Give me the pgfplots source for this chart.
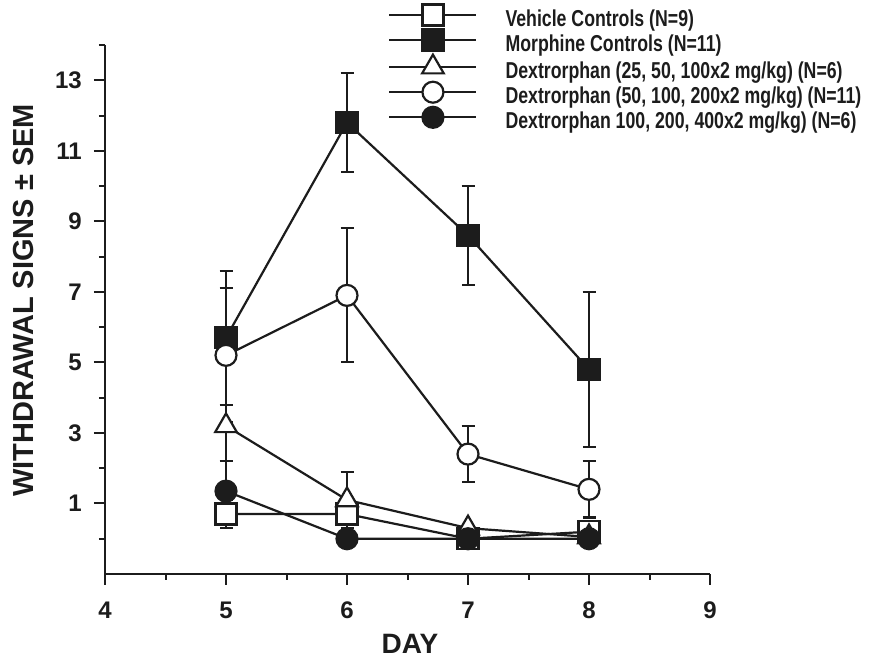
\documentclass[border=0pt]{standalone}
\usepackage{pgfplots}
\pgfplotsset{compat=1.18}
\usepackage{fontspec}
\setmainfont{Liberation Sans}
\newfontfamily\narrowfont[FakeStretch=0.77]{Liberation Sans}
\definecolor{ink}{HTML}{1C1C1C}
\pgfplotsset{
  pstyle/.style={ink, line width=2.2pt, mark size=10.5pt,
    error bars/y dir=both, error bars/y explicit,
    error bars/error bar style={line width=2.2pt, ink},
    error bars/error mark options={rotate=90, line width=2.2pt, mark size=6.5pt, ink}},
}
\begin{document}
\begin{tikzpicture}
\useasboundingbox (0pt,0pt) rectangle (875pt,661pt);
\begin{axis}[
  at={(105pt,87pt)}, anchor=south west,
  scale only axis, width=605pt, height=529pt,
  xmin=4, xmax=9, ymin=-1, ymax=14,
  axis x line*=bottom, axis y line*=left,
  axis line style={line width=2.2pt, ink},
  xtick={4,...,9}, minor xtick={4.5,5.5,6.5,7.5,8.5},
  ytick={1,3,...,13}, minor ytick={0,2,...,14},
  tick align=outside,
  major tick length=11pt, minor tick length=6pt,
  tick style={line width=2pt, ink},
  tick label style={font=\fontsize{24}{24}\selectfont\bfseries, text=ink, inner sep=0pt},
  /pgf/number format/assume math mode=true,
  xticklabel style={yshift=-17pt},
  yticklabel style={xshift=-12pt},
  xlabel={DAY},
  xlabel style={at={(axis description cs:0.504,-0.132)}, anchor=center, font=\fontsize{28}{28}\selectfont\bfseries, text=ink},
  ylabel={WITHDRAWAL SIGNS ± SEM},
  ylabel style={at={(axis description cs:-0.1355,0.517)}, anchor=center, font=\fontsize{29}{29}\selectfont\bfseries, text=ink},
  legend cell align=left,
  legend style={draw=none, fill=none, inner sep=0pt, row sep=1.5pt,
    at={(axis description cs:0.468,1.077)}, anchor=north west,
    font=\fontsize{23}{25}\selectfont\narrowfont\bfseries,
    nodes={inner sep=0pt, text=ink, yshift=-4pt}},
  legend image code/.code={\draw[mark repeat=2,mark phase=2,#1] plot coordinates {(0pt,0pt) (43.5pt,0pt) (87pt,0pt)}; \path (115pt,0pt);},
]
\addplot[pstyle, mark=square*, mark options={fill=white, solid}]
  coordinates {(5,0.7) +- (0,0.4) (6,0.7) +- (0,0.2) (7,0) +- (0,0) (8,0.2) +- (0,0)};
\addlegendentry{Vehicle Controls (N=9)}
\addplot[pstyle, mark=square*, mark options={fill=ink, solid}]
  coordinates {(5,5.7) +- (0,1.9) (6,11.8) +- (0,1.4) (7,8.6) +- (0,1.4) (8,4.8) +- (0,2.2)};
\addlegendentry{Morphine Controls (N=11)}
\addplot[pstyle, mark=triangle*, mark size=12.5pt, mark options={fill=white, solid}]
  coordinates {(5,3.2) += (0,0.6) -= (0,1.0) (6,1.1) +- (0,0.8) (7,0.3) +- (0,0) (8,0.05) +- (0,0)};
\addlegendentry{Dextrorphan (25, 50, 100x2 mg/kg) (N=6)}
\addplot[pstyle, mark=*, mark options={fill=white, solid}]
  coordinates {(5,5.2) +- (0,1.9) (6,6.9) +- (0,1.9) (7,2.4) +- (0,0.8) (8,1.4) +- (0,0.8)};
\addlegendentry{Dextrorphan (50, 100, 200x2 mg/kg) (N=11)}
\addplot[pstyle, mark=*, mark options={fill=ink, solid}]
  coordinates {(5,1.35) += (0,0.85) -= (0,0.77) (6,0) +- (0,0) (7,0) +- (0,0) (8,0) +- (0,0)};
\addlegendentry{Dextrorphan 100, 200, 400x2 mg/kg) (N=6)}
\end{axis}
\end{tikzpicture}
\end{document}
